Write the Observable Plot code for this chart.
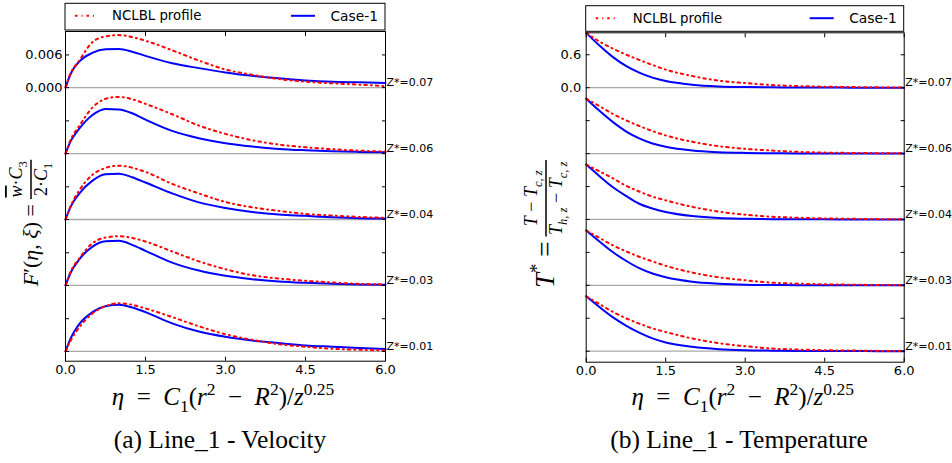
<!DOCTYPE html>
<html><head><meta charset="utf-8">
<script src="https://cdn.jsdelivr.net/npm/d3@7"></script>
<script src="https://cdn.jsdelivr.net/npm/@observablehq/plot@0.6"></script>
<style>
body{margin:0;background:#fff;}
#wrap{position:relative;width:952px;height:463px;overflow:hidden;background:#fff;}
.panel{position:absolute;top:0;}
.cap{position:absolute;top:426px;font-family:"Liberation Serif",serif;font-size:25.5px;line-height:28px;color:#000;white-space:nowrap;transform:translateX(-50%);}
</style></head><body>
<div id="wrap">
 <div id="pa" class="panel" style="left:0"></div>
 <div id="pb" class="panel" style="left:476px"></div>
 <div class="cap" style="left:220px">(a) Line_1 - Velocity</div>
 <div class="cap" style="left:739px">(b) Line_1 - Temperature</div>
</div>
<script>
// ---------- data ----------
const zLabels = ["Z*=0.07", "Z*=0.06", "Z*=0.04", "Z*=0.03", "Z*=0.01"];
const seriesNames = ["NCLBL profile", "Case-1"];
const xTicks = [0, 1.5, 3, 4.5, 6];

const etaV = [0, 0.1, 0.25, 0.5, 0.75, 1, 1.25, 1.5, 2, 2.5, 3, 3.5, 4, 4.5, 5, 5.5, 6];
const velCase1_007 = [0, 0.0026, 0.0047, 0.00636, 0.00703, 0.00709, 0.0066, 0.00582, 0.00448, 0.00358, 0.00279, 0.00218, 0.0017, 0.00133, 0.00109, 0.00097, 0.00085];
const velNCLBL_007 = [0, 0.00273, 0.00485, 0.0083, 0.0094, 0.00964, 0.00927, 0.0086, 0.00685, 0.00497, 0.00333, 0.00236, 0.00158, 0.00109, 0.00079, 0.00055, 0.0003];
const velCase1_006 = [0, 0.00233, 0.00447, 0.00704, 0.0082, 0.0081, 0.0074, 0.00624, 0.00416, 0.00282, 0.0019, 0.00129, 0.00086, 0.00061, 0.00043, 0.00031, 0.00024];
const velNCLBL_006 = [0, 0.00263, 0.00496, 0.00838, 0.01004, 0.0104, 0.00998, 0.00912, 0.00722, 0.00514, 0.00361, 0.00245, 0.00165, 0.00116, 0.0008, 0.00055, 0.00037];
const velCase1_004 = [0, 0.00242, 0.00467, 0.00709, 0.0083, 0.00842, 0.00776, 0.00679, 0.00479, 0.00315, 0.00212, 0.00139, 0.00091, 0.00067, 0.00042, 0.00024, 0.00018];
const velNCLBL_004 = [0, 0.00255, 0.00521, 0.00818, 0.00945, 0.00988, 0.00951, 0.00873, 0.00654, 0.00479, 0.00321, 0.00224, 0.00158, 0.00103, 0.00073, 0.00048, 0.0003];
const velCase1_003 = [0, 0.00242, 0.00467, 0.00709, 0.00812, 0.00818, 0.00745, 0.00636, 0.00418, 0.00273, 0.00176, 0.00115, 0.00073, 0.00048, 0.0003, 0.00018, 0.00012];
const velNCLBL_003 = [0, 0.00261, 0.00485, 0.0077, 0.00879, 0.00903, 0.00873, 0.00806, 0.00624, 0.00442, 0.00297, 0.00188, 0.00127, 0.00085, 0.00055, 0.0003, 0.00018];
const velCase1_001 = [0, 0.00248, 0.00491, 0.00715, 0.0083, 0.00855, 0.00806, 0.00721, 0.00515, 0.00364, 0.00267, 0.002, 0.00152, 0.00109, 0.00085, 0.00061, 0.00042];
const velNCLBL_001 = [0, 0.00206, 0.0043, 0.00691, 0.0083, 0.00885, 0.00855, 0.00788, 0.0063, 0.00461, 0.00315, 0.00212, 0.00133, 0.00085, 0.00048, 0.0003, 0.00018];

const etaT = [0, 0.25, 0.5, 0.75, 1, 1.25, 1.5, 2, 2.5, 3, 3.5, 4, 4.5, 5, 5.5, 6];
const tempCase1_007 = [1, 0.768, 0.561, 0.396, 0.274, 0.183, 0.122, 0.055, 0.024, 0.012, 0.006, 0.003, 0.002, 0.001, 0, 0];
const tempNCLBL_007 = [1, 0.841, 0.713, 0.604, 0.506, 0.415, 0.329, 0.213, 0.128, 0.085, 0.049, 0.03, 0.018, 0.012, 0.006, 0.003];
const tempCase1_006 = [1, 0.779, 0.577, 0.405, 0.276, 0.184, 0.123, 0.055, 0.025, 0.012, 0.006, 0.003, 0.002, 0.001, 0, 0];
const tempNCLBL_006 = [1, 0.865, 0.724, 0.607, 0.503, 0.411, 0.331, 0.215, 0.135, 0.086, 0.055, 0.031, 0.018, 0.012, 0.008, 0.005];
const tempCase1_004 = [1, 0.789, 0.59, 0.429, 0.286, 0.199, 0.137, 0.062, 0.025, 0.012, 0.006, 0.003, 0.002, 0.001, 0, 0];
const tempNCLBL_004 = [1, 0.876, 0.752, 0.615, 0.509, 0.416, 0.348, 0.23, 0.143, 0.087, 0.05, 0.031, 0.019, 0.012, 0.006, 0.003];
const tempCase1_003 = [1, 0.798, 0.607, 0.448, 0.313, 0.215, 0.147, 0.067, 0.031, 0.012, 0.006, 0.003, 0.002, 0.001, 0, 0];
const tempNCLBL_003 = [1, 0.865, 0.73, 0.62, 0.521, 0.436, 0.356, 0.233, 0.147, 0.092, 0.049, 0.031, 0.018, 0.012, 0.006, 0.003];
const tempCase1_001 = [1, 0.804, 0.62, 0.466, 0.337, 0.233, 0.16, 0.08, 0.037, 0.018, 0.01, 0.006, 0.004, 0.003, 0.001, 0];
const tempNCLBL_001 = [1, 0.859, 0.718, 0.601, 0.503, 0.417, 0.35, 0.233, 0.147, 0.092, 0.049, 0.031, 0.018, 0.012, 0.006, 0.003];

// ---------- helpers ----------
const SERIF = "'Liberation Serif', 'DejaVu Serif', serif";
const SANS = "'DejaVu Sans', sans-serif";
const DASHDOT = "2.5,4,1,4";

function buildRows(eta, nclbl, case1, step) {
  const out = [];
  zLabels.forEach((z, i) => {
    const off = -i * step;
    [[seriesNames[0], nclbl[i]], [seriesNames[1], case1[i]]].forEach(([s, vals]) => {
      vals.forEach((v, j) => out.push({eta: eta[j], value: v, y: v + off, z, series: s}));
    });
  });
  return out;
}

function rich(parent, segs, size, x, y, anchor) {
  const t = parent.append("text").attr("x", x).attr("y", y)
    .attr("font-size", size).attr("font-family", SERIF)
    .attr("text-anchor", anchor || "start").attr("fill", "black")
    .style("white-space", "pre");
  let shift = 0;
  for (const s of segs) {
    const target = s.sub ? size * 0.28 : s.sup ? -size * 0.42 : 0;
    const ts = t.append("tspan").text(s.t);
    if (target !== shift) { ts.attr("dy", target - shift); shift = target; }
    if (s.sub || s.sup) ts.attr("font-size", size * 0.7);
    if (s.it) ts.attr("font-style", "italic");
    if (s.over) ts.style("text-decoration", "overline");
  }
  return t;
}

function mathTitle(svg, cx, cy, lhs, num, den, big, small) {
  const g = svg.append("g").attr("transform", `translate(${cx},${cy}) rotate(-90)`);
  const tl = rich(g, lhs, big, 0, 0.3 * big, "start");
  const tn = rich(g, num, small, 0, -0.5 * small, "middle");
  const td = rich(g, den, small, 0, 0.88 * small, "middle");
  const lw = tl.node().getComputedTextLength() + 5;
  const fw = Math.max(tn.node().getComputedTextLength(), td.node().getComputedTextLength()) + 3;
  const total = lw + fw;
  const x0 = -total / 2;
  tl.attr("x", x0);
  const fx = x0 + lw + fw / 2;
  tn.attr("x", fx); td.attr("x", fx);
  g.append("line").attr("x1", x0 + lw).attr("x2", x0 + lw + fw).attr("y1", 0).attr("y2", 0)
    .attr("stroke", "black").attr("stroke-width", 1.5);
}

function legend(svg, x0, x1, y0, y1) {
  svg.append("rect").attr("x", x0).attr("y", y0).attr("width", x1 - x0).attr("height", y1 - y0)
    .attr("fill", "white").attr("stroke", "black").attr("stroke-width", 1);
  const cy = y0 + 12.5;
  svg.append("line").attr("x1", x0 + 10).attr("x2", x0 + 32).attr("y1", cy).attr("y2", cy)
    .attr("stroke", "#ff0000").attr("stroke-width", 2).attr("stroke-dasharray", DASHDOT);
  svg.append("text").attr("x", x0 + 47).attr("y", cy).attr("dominant-baseline", "central")
    .attr("text-anchor", "start")
    .attr("font-family", SANS).attr("font-size", 13.3).attr("fill", "black").text(seriesNames[0]);
  svg.append("line").attr("x1", x1 - 94).attr("x2", x1 - 70).attr("y1", cy).attr("y2", cy)
    .attr("stroke", "#0000ff").attr("stroke-width", 2);
  svg.append("text").attr("x", x1 - 7).attr("y", cy).attr("dominant-baseline", "central")
    .attr("text-anchor", "end")
    .attr("font-family", SANS).attr("font-size", 13.8).attr("fill", "black").text(seriesNames[1]);
}

function makePanel(cfg) {
  const W = 476, H = 415;
  const offs = zLabels.map((z, i) => ({z, y: -i * cfg.step}));
  const tickVals = offs.flatMap(o => [o.y, o.y + cfg.tick]);
  const data = buildRows(cfg.eta, cfg.nclbl, cfg.case1, cfg.step);
  const svgEl = Plot.plot({
    width: W, height: H,
    marginLeft: cfg.ml, marginRight: W - cfg.ml - cfg.w,
    marginTop: cfg.mt, marginBottom: H - cfg.bottom,
    style: {fontFamily: SANS, fontSize: "13px", color: "black", background: "white", overflow: "visible"},
    x: {domain: [0, 6], label: null},
    y: {domain: cfg.domain, label: null},
    marks: [
      Plot.ruleY(offs, {y: "y", stroke: "#a9a9a9", strokeWidth: 1.3}),
      Plot.line(data.filter(d => d.series === seriesNames[1]),
        {x: "eta", y: "y", z: "z", stroke: "#0000ff", strokeWidth: 2, curve: "monotone-x"}),
      Plot.line(data.filter(d => d.series === seriesNames[0]),
        {x: "eta", y: "y", z: "z", stroke: "#ff0000", strokeWidth: 2, strokeDasharray: DASHDOT, curve: "monotone-x"}),
      Plot.axisY({anchor: "left", ticks: tickVals, tickSize: 4, dx: 4, tickFormat: () => ""}),
      Plot.axisY({anchor: "right", ticks: tickVals, tickSize: 4, dx: -4, tickFormat: () => ""}),
      Plot.axisY({anchor: "left", ticks: [0, cfg.tick], tickSize: 0, tickPadding: cfg.pad, tickFormat: cfg.fmt}),
      Plot.axisX({anchor: "bottom", ticks: xTicks, tickSize: 4, dy: -4, tickFormat: () => ""}),
      Plot.axisX({anchor: "top", ticks: xTicks, tickSize: 4, dy: 4, tickFormat: () => ""}),
      Plot.axisX({anchor: "bottom", ticks: xTicks, tickSize: 0, tickPadding: 4, tickFormat: d3.format(".1f")}),
      Plot.text(offs, {x: 6, y: "y", text: "z", textAnchor: "start", dx: 1, dy: -5, fontSize: 11, ariaLabel: "zlab"}),
      Plot.frame({stroke: "black", strokeWidth: 1})
    ]
  });
  document.getElementById(cfg.id).appendChild(svgEl);
  const svg = d3.select(svgEl);
  // Z* labels: italic math Z with superscript star
  svg.selectAll("g[aria-label='zlab'] text").each(function() {
    const el = d3.select(this);
    const s = el.text();
    const rest = s.slice(2);
    el.text("");
    el.append("tspan").attr("font-family", SERIF).attr("font-style", "italic").attr("font-size", 11.5).attr("fill", "#444").text("Z");
    el.append("tspan").attr("font-size", 7.5).attr("dy", -4).text("*");
    el.append("tspan").attr("dy", 4).attr("font-family", SANS).attr("font-size", 11).text(rest);
  });
  legend(svg, cfg.ml, cfg.ml + cfg.w, cfg.legTop, cfg.mt - 1);
  rich(svg, cfg.xTitle, 25, cfg.ml + cfg.w / 2 - 2, 405, "middle");
  mathTitle(svg, cfg.ytx, cfg.yty, cfg.yLhs, cfg.yNum, cfg.yDen, cfg.ybig, 18);
}

const xTitle = [
  {t: "η", it: true}, {t: "\u2002=\u2002"}, {t: "C", it: true}, {t: "1", sub: true}, {t: "("},
  {t: "r", it: true}, {t: "2", sup: true}, {t: "\u2002−\u2002"}, {t: "R", it: true}, {t: "2", sup: true},
  {t: ")/"}, {t: "z", it: true}, {t: "0.25", sup: true}
];

makePanel({
  id: "pa", ml: 65, w: 320, mt: 31, bottom: 360.7, legTop: 3.3,
  domain: [-0.0502, 0.0103], step: 0.0121, tick: 0.006, pad: 3, fmt: d3.format(".3f"),
  eta: etaV,
  nclbl: [velNCLBL_007, velNCLBL_006, velNCLBL_004, velNCLBL_003, velNCLBL_001],
  case1: [velCase1_007, velCase1_006, velCase1_004, velCase1_003, velCase1_001],
  xTitle,
  ytx: 31, yty: 223, ybig: 22,
  yLhs: [{t: "F", it: true}, {t: "′"}, {t: "("}, {t: "η", it: true}, {t: ", "}, {t: "ξ", it: true}, {t: ") ="}],
  yNum: [{t: "w", it: true, over: true}, {t: "·"}, {t: "C", it: true}, {t: "3", sub: true}],
  yDen: [{t: "2·"}, {t: "C", it: true}, {t: "1", sub: true}]
});

makePanel({
  id: "pb", ml: 109.7, w: 318, mt: 32.3, bottom: 361.7, legTop: 5.7,
  domain: [-5, 1], step: 1.2, tick: 0.6, pad: 5, fmt: d3.format(".1f"),
  eta: etaT,
  nclbl: [tempNCLBL_007, tempNCLBL_006, tempNCLBL_004, tempNCLBL_003, tempNCLBL_001],
  case1: [tempCase1_007, tempCase1_006, tempCase1_004, tempCase1_003, tempCase1_001],
  xTitle,
  ytx: 70, yty: 224, ybig: 27,
  yLhs: [{t: "T", it: true}, {t: "*", sup: true}, {t: " ="}],
  yNum: [{t: "T", it: true}, {t: " − "}, {t: "T", it: true}, {t: "c, z", sub: true, it: true}],
  yDen: [{t: "T", it: true}, {t: "h, z", sub: true, it: true}, {t: " − "}, {t: "T", it: true}, {t: "c, z", sub: true, it: true}]
});
</script>
</body></html>
